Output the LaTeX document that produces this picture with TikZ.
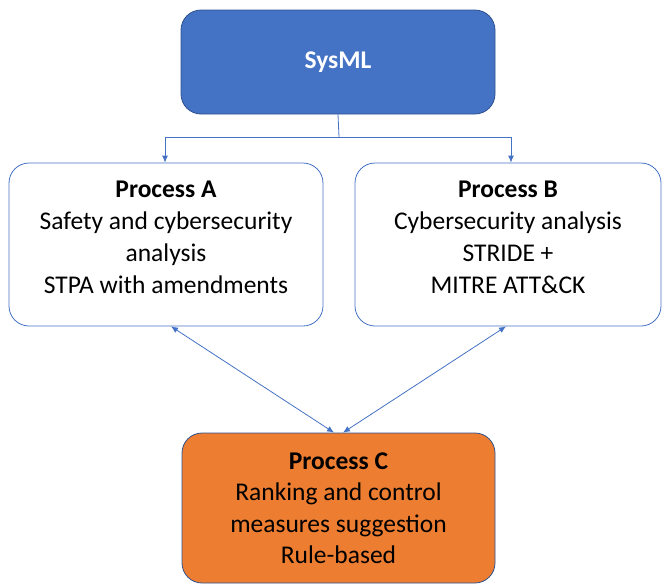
\documentclass[tikz,border=0pt]{standalone}
\usepackage{fontspec}
\setmainfont{Carlito}
\usetikzlibrary{arrows.meta}
\definecolor{accblue}{HTML}{4472C4}
\definecolor{darkblue}{HTML}{2F528F}
\definecolor{accorange}{HTML}{ED7D31}
\begin{document}
\begin{tikzpicture}[x=1pt,y=1pt,
  boxstyle/.style={rectangle,rounded corners=20pt,align=center,inner sep=0pt,line width=0.8pt,
    font=\fontsize{25.5}{31.5}\selectfont},
  txt/.style={align=center,inner sep=0pt,font=\fontsize{25.5}{32}\selectfont},
  conn/.style={draw=accblue,line width=0.8pt},
  tip/.style={-{Latex[length=7pt,width=6pt]}},
  dtip/.style={{Latex[length=7pt,width=6pt]}-{Latex[length=7pt,width=6pt]}}]
\useasboundingbox (0,0) rectangle (662,-584);
\node[boxstyle,fill=accblue,draw=darkblue,minimum width=314pt,minimum height=104pt,text=white,font=\fontsize{25.5}{31}\selectfont\bfseries] (sys) at (338,-62) {SysML};
\node[boxstyle,fill=white,draw=accblue,minimum width=314pt,minimum height=163pt] (pa) at (166,-244.5) {};
\node[txt] (pat) at (166,-237) {\textbf{Process A}\\Safety and cybersecurity\\analysis\\STPA with amendments};
\node[boxstyle,fill=white,draw=accblue,minimum width=306pt,minimum height=163pt] (pb) at (508,-244.5) {};
\node[txt] (pbt) at (508,-237) {\textbf{Process B}\\Cybersecurity analysis\\STRIDE +\\MITRE ATT\&CK};
\node[boxstyle,fill=accorange,draw=darkblue,minimum width=313pt,minimum height=150pt] (pc) at (338.5,-508) {\textbf{Process C}\\Ranking and control\\measures suggestion\\Rule-based};
\coordinate (split) at (339,-137);
\draw[conn] (sys.south) -- (split);
\draw[conn,tip] (split) -| ([xshift=-1pt]pa.north);
\draw[conn,tip] (split) -| ([xshift=3pt]pb.north);
\draw[conn,dtip] ([xshift=5pt]pa.south) -- ([xshift=-4.5pt]pc.north);
\draw[conn,dtip] ([xshift=-2pt]pb.south) -- ([xshift=4.5pt]pc.north);
\end{tikzpicture}
\end{document}
